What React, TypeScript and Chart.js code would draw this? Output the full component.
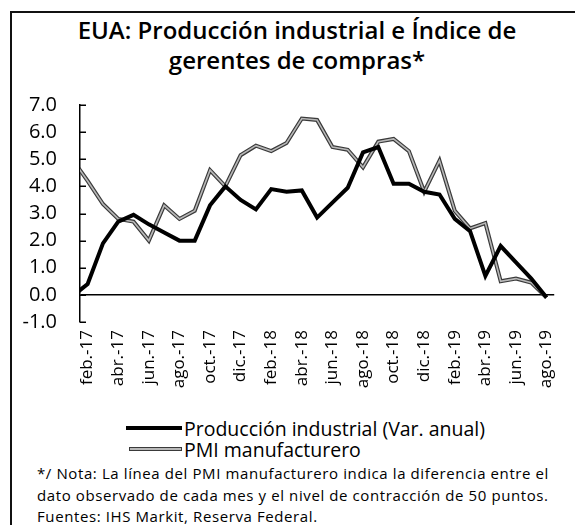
import React, { useEffect, useRef } from "react";
import { Chart, registerables } from "chart.js";

Chart.register(...registerables);

// Months ene.-17 .. ago.-19 (ene.-17 lies just left of the plotted window)
const months = [
  "ene.-17", "feb.-17", "mar.-17", "abr.-17", "may.-17", "jun.-17", "jul.-17", "ago.-17",
  "sep.-17", "oct.-17", "nov.-17", "dic.-17", "ene.-18", "feb.-18", "mar.-18", "abr.-18",
  "may.-18", "jun.-18", "jul.-18", "ago.-18", "sep.-18", "oct.-18", "nov.-18", "dic.-18",
  "ene.-19", "feb.-19", "mar.-19", "abr.-19", "may.-19", "jun.-19", "jul.-19", "ago.-19",
];

const tickLabels = [
  "feb.-17", "abr.-17", "jun.-17", "ago.-17", "oct.-17", "dic.-17", "feb.-18", "abr.-18",
  "jun.-18", "ago.-18", "oct.-18", "dic.-18", "feb.-19", "abr.-19", "jun.-19", "ago.-19",
];

const produccion = [
  -0.05, 0.4, 1.9, 2.7, 2.95, 2.6, 2.3, 2.0, 2.0, 3.3, 4.0, 3.5,
  3.15, 3.9, 3.8, 3.85, 2.85, 3.4, 3.95, 5.25, 5.45, 4.1, 4.1, 3.8,
  3.7, 2.8, 2.35, 0.7, 1.8, 1.2, 0.6, -0.1,
];

const pmi = [
  5.0, 4.2, 3.35, 2.8, 2.7, 2.0, 3.3, 2.8, 3.1, 4.6, 4.0, 5.15,
  5.5, 5.3, 5.6, 6.5, 6.45, 5.45, 5.35, 4.7, 5.65, 5.75, 5.3, 3.8,
  4.95, 3.1, 2.45, 2.65, 0.5, 0.6, 0.45, -0.1,
];

const yTicks = [-1, 0, 1, 2, 3, 4, 5, 6, 7];

const FONT = "'Open Sans', sans-serif";

const innerTicks = {
  id: "innerTicks",
  afterDraw(chart: any) {
    const ys = chart.scales.y;
    const ctx = chart.ctx;
    const x0 = chart.chartArea.left;
    ctx.save();
    ctx.strokeStyle = "#000";
    ctx.lineWidth = 1.5;
    ys.ticks.forEach((t: any) => {
      const py = Math.round(ys.getPixelForValue(t.value)) + 0.25;
      ctx.beginPath();
      ctx.moveTo(x0, py);
      ctx.lineTo(x0 + 6, py);
      ctx.stroke();
    });
    ctx.restore();
  },
};

function ChartCanvas() {
  const ref = useRef<HTMLCanvasElement | null>(null);
  useEffect(() => {
    if (!ref.current) return;
    const toPts = (arr: number[]) => arr.map((v, i) => ({ x: i - 1, y: v }));
    const chart = new Chart(ref.current, {
      type: "line",
      data: {
        labels: months,
        datasets: [
          {
            label: "Producción industrial (Var. anual)",
            data: toPts(produccion),
            borderColor: "#000",
            borderWidth: 4,
            pointRadius: 0,
            tension: 0,
            clip: 0,
            order: 0,
          },
          {
            label: "PMI manufacturero (interior)",
            data: toPts(pmi),
            borderColor: "#b8b8b8",
            borderWidth: 1.6,
            pointRadius: 0,
            tension: 0,
            clip: 0,
            order: 1,
          },
          {
            label: "PMI manufacturero",
            data: toPts(pmi),
            borderColor: "#3a3a3a",
            borderWidth: 4,
            pointRadius: 0,
            tension: 0,
            clip: 0,
            order: 2,
          },
        ],
      },
      options: {
        responsive: false,
        animation: false,
        devicePixelRatio: 1,
        layout: { padding: { top: 16, right: 2, bottom: 0, left: 0 } },
        plugins: { legend: { display: false }, tooltip: { enabled: false } },
        scales: {
          x: {
            type: "linear",
            min: -0.5,
            max: 30.5,
            grid: { display: false, drawTicks: false },
            border: { display: false },
            afterBuildTicks: (axis: any) => {
              axis.ticks = tickLabels.map((_, k) => ({ value: 2 * k }));
            },
            afterFit: (scale: any) => {
              scale.height = 78;
            },
            ticks: {
              autoSkip: false,
              maxRotation: 90,
              minRotation: 90,
              padding: 8,
              color: "#000",
              font: { family: FONT, size: 17 },
              callback: (v: any) => tickLabels[Math.round(Number(v) / 2)] ?? "",
            },
          },
          y: {
            min: -1,
            max: 7,
            afterBuildTicks: (axis: any) => {
              axis.ticks = yTicks.map((v) => ({ value: v }));
            },
            afterFit: (scale: any) => {
              scale.width = 80;
            },
            grid: {
              drawTicks: false,
              color: (c: any) => (c.tick && c.tick.value === 0 ? "#000" : "rgba(0,0,0,0)"),
              lineWidth: 1.5,
            },
            border: { display: true, color: "#000", width: 1.5 },
            ticks: {
              padding: 23,
              color: "#000",
              font: { family: FONT, size: 20, weight: 500 },
              callback: (v: any) => Number(v).toFixed(1),
            },
          },
        },
      },
      plugins: [innerTicks],
    });
    return () => chart.destroy();
  }, []);
  return (
    <canvas
      ref={ref}
      width={575}
      height={330}
      style={{ position: "absolute", left: 0, top: 70, width: 575, height: 330 }}
    />
  );
}

export default function App() {
  return (
    <div
      style={{
        position: "absolute",
        left: 0,
        top: 0,
        width: 575,
        height: 525,
        overflow: "hidden",
        background: "#fff",
        fontFamily: FONT,
        color: "#000",
      }}
    >
      <div
        style={{
          position: "absolute",
          left: 10,
          top: 11,
          width: 700,
          height: 700,
          borderLeft: "2px solid #111",
          borderTop: "2px solid #111",
        }}
      />
      <div
        style={{
          position: "absolute",
          left: 10,
          top: 15,
          width: 574,
          textAlign: "center",
          fontSize: 24,
          fontWeight: 600,
          lineHeight: "30px",
        }}
      >
        EUA: Producción industrial e Índice de
        <br />
        gerentes de compras*
      </div>
      <ChartCanvas />
      <div style={{ position: "absolute", left: 126, top: 415, height: 26, display: "flex", alignItems: "center", fontSize: 19.5, whiteSpace: "nowrap" }}>
        <div style={{ width: 56, height: 4, background: "#000", marginRight: 2 }} />
        <span>Producción industrial (Var. anual)</span>
      </div>
      <div style={{ position: "absolute", left: 129, top: 436, height: 26, display: "flex", alignItems: "center", fontSize: 19.5, whiteSpace: "nowrap" }}>
        <div style={{ width: 51, height: 2, background: "#b8b8b8", border: "1px solid #3a3a3a", marginRight: 2 }} />
        <span>PMI manufacturero</span>
      </div>
      <div style={{ position: "absolute", left: 37, top: 462, fontSize: 15, letterSpacing: 0.6, lineHeight: "22px", whiteSpace: "nowrap" }}>
        */ Nota: La línea del PMI manufacturero indica la diferencia entre el
        <br />
        dato observado de cada mes y el nivel de contracción de 50 puntos.
      </div>
      <div style={{ position: "absolute", left: 37, top: 506, fontSize: 15, letterSpacing: 0.6, lineHeight: "20px", whiteSpace: "nowrap" }}>
        Fuentes: IHS Markit, Reserva Federal.
      </div>
    </div>
  );
}
